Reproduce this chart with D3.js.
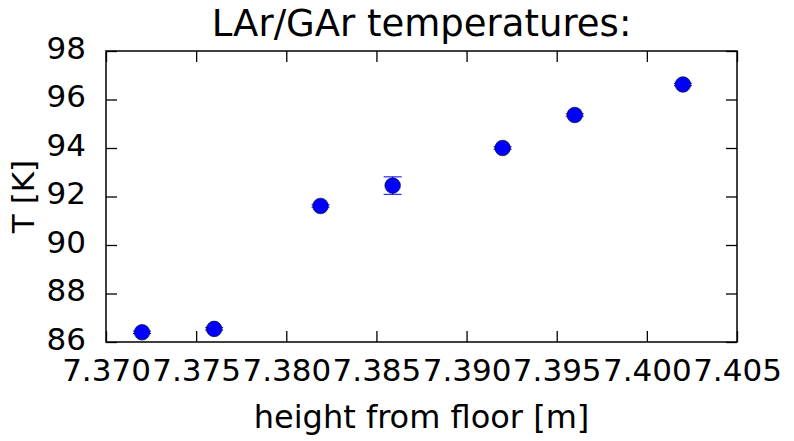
<!DOCTYPE html>
<html>
<head>
<meta charset="utf-8">
<script src="https://cdn.jsdelivr.net/npm/d3@7"></script>
<style>
  body { margin: 0; background: #fff; }
  svg { display: block; }
  text { font-family: "DejaVu Sans", sans-serif; fill: #000; }
</style>
</head>
<body>
<div id="chart"></div>
<script>
// LAr/GAr temperature vs height

var heights = [7.3720, 7.3760, 7.3819, 7.3859, 7.3920, 7.3960, 7.4020]; // m
var temps   = [86.40, 86.54, 91.61, 92.45, 94.00, 95.36, 96.62];       // K
var errs    = [0.05, 0.05, 0.05, 0.36, 0.05, 0.05, 0.05];
var xTicks  = [7.370, 7.375, 7.380, 7.385, 7.390, 7.395, 7.400, 7.405];
var yTicks  = [86, 88, 90, 92, 94, 96, 98];

var W = 794, H = 441;
var margin = { top: 51, right: 57, bottom: 99, left: 106 };
var w = W - margin.left - margin.right,
    h = H - margin.top - margin.bottom;

var svg = d3.select('#chart').append('svg')
    .attr('width', W)
    .attr('height', H);

var x = d3.scaleLinear().domain([7.370, 7.405]).range([0, w]);
var y = d3.scaleLinear().domain([86, 98]).range([h, 0]);

var g = svg.append('g')
    .attr('transform', `translate(${margin.left},${margin.top})`);

// axes - inward ticks on all four sides (matplotlib classic look)
var tickLen = 11;

var xAxis = g.append('g')
    .attr('transform', `translate(0,${h})`)
    .call(d3.axisBottom(x).tickValues(xTicks).tickSizeInner(-tickLen).tickSizeOuter(0)
      .tickPadding(tickLen + 6).tickFormat(d3.format('.3f')));

var yAxis = g.append('g')
    .call(d3.axisLeft(y).tickValues(yTicks).tickSizeInner(-tickLen).tickSizeOuter(0)
      .tickPadding(tickLen + 9).tickFormat(d3.format('d')));

g.append('g')
    .call(d3.axisTop(x).tickValues(xTicks).tickSizeInner(-tickLen).tickSizeOuter(0).tickFormat(''));
g.append('g')
    .attr('transform', `translate(${w},0)`)
    .call(d3.axisRight(y).tickValues(yTicks).tickSizeInner(-tickLen).tickSizeOuter(0).tickFormat(''));

g.selectAll('.domain').remove();
g.selectAll('.tick line').attr('stroke', '#000').attr('stroke-width', 1.3);

xAxis.selectAll('text').style('font-size', '31px').attr('dy', '0.71em');
yAxis.selectAll('text').style('font-size', '31px').attr('dy', '0.23em');

// frame
g.append('rect')
    .attr('width', w)
    .attr('height', h)
    .attr('fill', 'none')
    .attr('stroke', '#000')
    .attr('stroke-width', 1.5);

// error bars
var pts = heights.map((d, i) => ({ x: d, t: temps[i], e: errs[i] }));

var eb = g.selectAll('.err')
    .data(pts)
  .enter().append('g')
    .attr('class', 'err')
    .attr('stroke', '#0000ff')
    .attr('stroke-width', 1);

eb.append('line')
    .attr('x1', d => x(d.x)).attr('x2', d => x(d.x))
    .attr('y1', d => y(d.t - d.e)).attr('y2', d => y(d.t + d.e));
eb.append('line')
    .attr('x1', d => x(d.x) - 9).attr('x2', d => x(d.x) + 9)
    .attr('y1', d => y(d.t - d.e)).attr('y2', d => y(d.t - d.e));
eb.append('line')
    .attr('x1', d => x(d.x) - 9).attr('x2', d => x(d.x) + 9)
    .attr('y1', d => y(d.t + d.e)).attr('y2', d => y(d.t + d.e));

// markers
g.selectAll('.pt')
    .data(pts)
  .enter().append('circle')
    .attr('class', 'pt')
    .attr('cx', d => x(d.x))
    .attr('cy', d => y(d.t))
    .attr('r', 7.8)
    .attr('fill', '#0000ff')
    .attr('stroke', '#000')
    .attr('stroke-width', 0.6);

// title and labels
svg.append('text')
    .attr('x', margin.left + w / 2)
    .attr('y', 36)
    .attr('text-anchor', 'middle')
    .style('font-size', '37px')
    .text('LAr/GAr temperatures:');

svg.append('text')
    .attr('x', margin.left + w / 2)
    .attr('y', 428)
    .attr('text-anchor', 'middle')
    .style('font-size', '32px')
    .text('height from floor [m]');

svg.append('text')
    .attr('transform', `translate(34,${margin.top + h / 2}) rotate(-90)`)
    .attr('text-anchor', 'middle')
    .style('font-size', '31px')
    .text('T [K]');
</script>
</body>
</html>
